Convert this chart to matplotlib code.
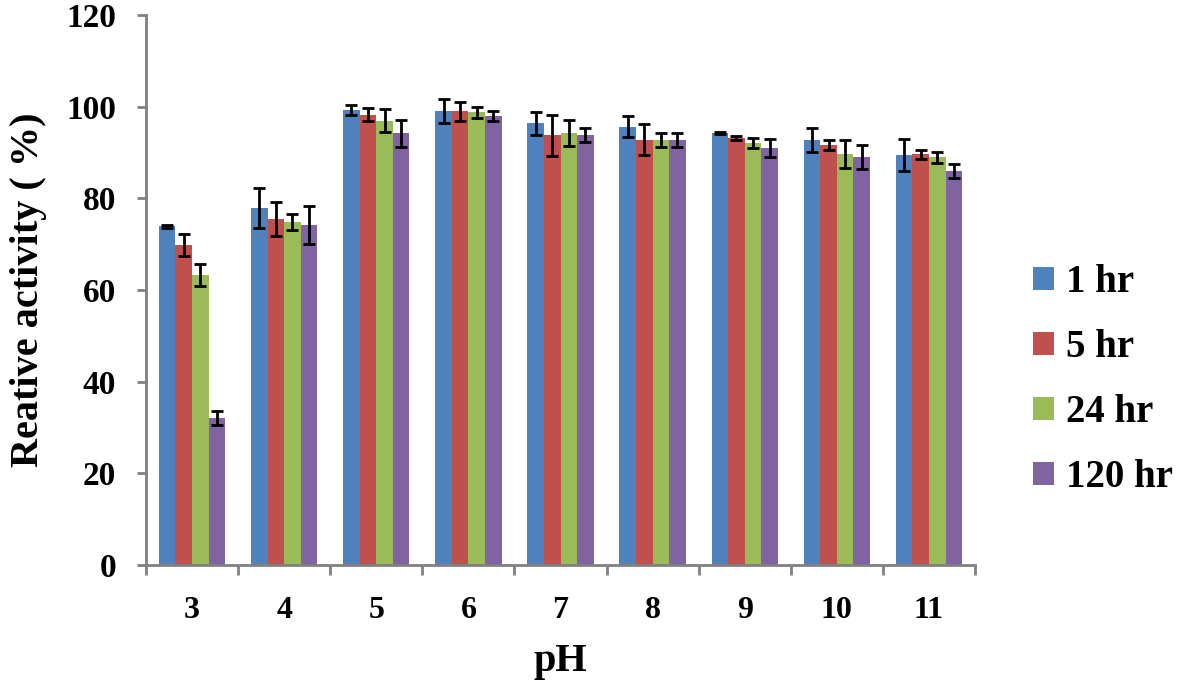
import numpy as np
import matplotlib.pyplot as plt
from matplotlib.patches import Patch

ph = ['3', '4', '5', '6', '7', '8', '9', '10', '11']
series = ['1 hr', '5 hr', '24 hr', '120 hr']
colors = ['#4F81BD', '#C0504D', '#9BBB59', '#8064A2']

act_1h = [73.9, 77.9, 99.3, 99.0, 96.4, 95.7, 94.3, 92.8, 89.5]
act_5h = [69.8, 75.5, 98.3, 99.0, 93.8, 92.8, 93.2, 91.7, 89.6]
act_24h = [63.3, 74.8, 97.0, 98.8, 94.3, 92.8, 92.1, 89.7, 89.0]
act_120h = [32.0, 74.2, 94.2, 98.0, 93.8, 92.8, 91.0, 89.1, 86.0]

err_1h = [0.3, 4.4, 1.0, 2.6, 2.5, 2.4, 0.3, 2.6, 3.5]
err_5h = [2.4, 3.7, 1.5, 2.0, 4.5, 3.4, 0.5, 1.1, 0.9]
err_24h = [2.4, 1.7, 2.6, 1.2, 2.8, 1.5, 1.0, 3.0, 1.2]
err_120h = [1.5, 4.1, 2.9, 1.1, 1.5, 1.5, 2.0, 2.6, 1.5]

values = [act_1h, act_5h, act_24h, act_120h]
errors = [err_1h, err_5h, err_24h, err_120h]

plt.rcParams['font.family'] = ['Liberation Serif', 'DejaVu Serif']
plt.rcParams['font.weight'] = 'bold'

fig = plt.figure(figsize=(11.81, 6.83), dpi=100)
ax = fig.add_axes([0.1236, 0.1728, 0.702, 0.805])

x = np.arange(len(ph))
w = 0.18
for i in range(4):
    pos = x + (i - 1.5) * w
    ax.bar(pos, values[i], w, color=colors[i], zorder=2)
    ax.errorbar(pos, values[i], yerr=errors[i], fmt='none', ecolor='black',
                elinewidth=2, capsize=4.5, capthick=2, zorder=3)

ax.set_xlim(-0.5, len(ph) - 0.5)
ax.set_ylim(0, 120)
ax.set_yticks(range(0, 121, 20))
ax.set_xticks(x)
ax.set_xticklabels(ph)
ax.set_xticks(np.arange(-0.5, len(ph), 1), minor=True)

for s in ['top', 'right']:
    ax.spines[s].set_visible(False)
for s in ['left', 'bottom']:
    ax.spines[s].set_color('#808080')
    ax.spines[s].set_linewidth(2)

ax.tick_params(axis='x', which='major', length=0, pad=22, labelsize=23)
ax.tick_params(axis='x', which='minor', length=7, width=2, color='#808080')
ax.tick_params(axis='y', length=6.5, width=2, color='#808080', labelsize=24, pad=15)
for lab in ax.get_xticklabels() + ax.get_yticklabels():
    lab.set_fontweight('bold')

ax.set_xlabel('pH', fontsize=29, fontweight='bold', labelpad=13)
ax.set_ylabel('Reative activity ( %)', fontsize=29, fontweight='bold', labelpad=14)

handles = [Patch(facecolor=c, edgecolor='none') for c in colors]
fig.legend(handles, series, loc='center left', bbox_to_anchor=(0.8747, 0.4436),
           frameon=False, handlelength=0.55, handleheight=0.55,
           labelspacing=0.72, handletextpad=0.3, borderpad=0, borderaxespad=0,
           prop={'weight': 'bold', 'size': 28})

fig.savefig('out.png', dpi=100)
